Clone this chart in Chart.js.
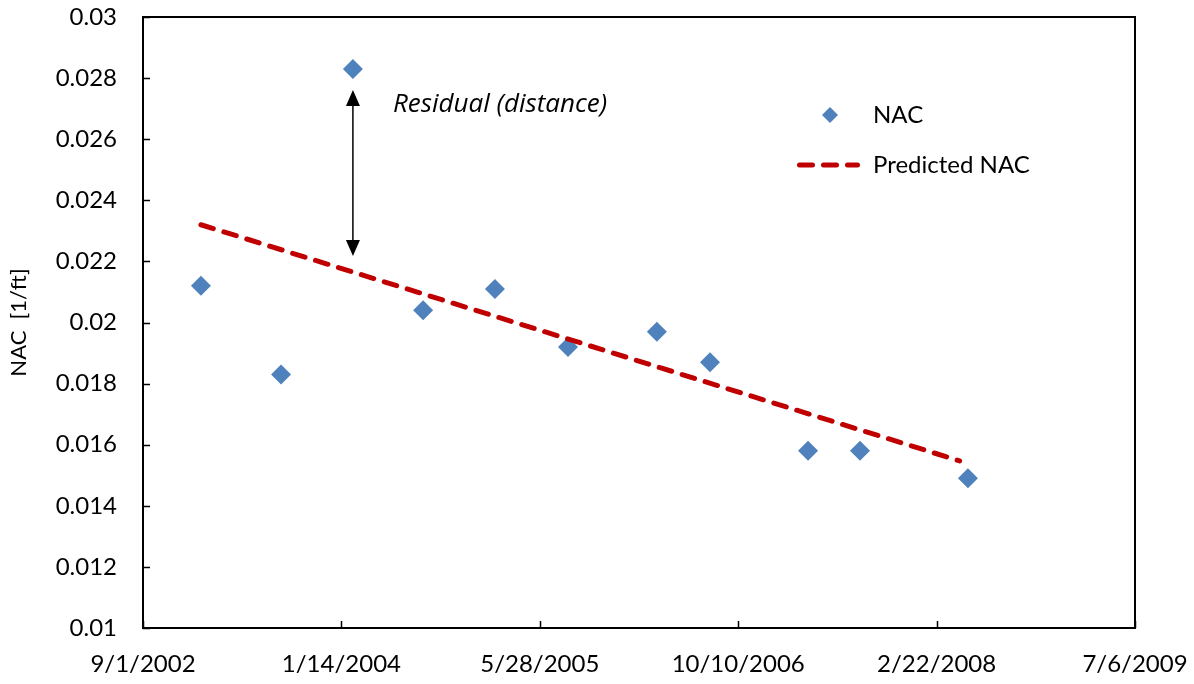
<!DOCTYPE html>
<html>
<head>
<meta charset="utf-8">
<script src="https://cdn.jsdelivr.net/npm/chart.js@4.4.1/dist/chart.umd.min.js"></script>
<style>
  html, body { margin: 0; padding: 0; background: #fff; }
  #wrap { width: 1194px; height: 684px; position: relative; }
</style>
</head>
<body>
<div id="wrap"><canvas id="nacChart"></canvas></div>
<script>
// ---------- Dados ----------
const nacDates   = ['2003-01-25','2003-08-15','2004-02-12','2004-08-07','2005-02-04','2005-08-07',
                    '2006-03-19','2006-07-31','2007-04-04','2007-08-13','2008-05-11'];
const nacValues  = [0.0212, 0.0183, 0.0283, 0.0204, 0.0211, 0.0192, 0.0197, 0.0187, 0.0158, 0.0158, 0.0149];
const predDates  = ['2003-01-25','2008-04-20'];
const predValues = [0.0232, 0.01547];
const xAxisStart = '2002-09-01';   // 9/1/2002
const xStepDays  = 500;            // 9/1/2002, 1/14/2004, ... 7/6/2009
const xStepCount = 5;
const yMin = 0.01, yMax = 0.03, yStep = 0.002;
const residualIndex = 2;           // ponto com a seta "Residual (distance)"

// ---------- Helpers ----------
const DAY = 86400000;
const toDay = s => { const [y,m,d] = s.split('-').map(Number); return Date.UTC(y, m-1, d) / DAY; };
const fmtDay = v => { const d = new Date(Math.round(v) * DAY); return (d.getUTCMonth()+1) + '/' + d.getUTCDate() + '/' + d.getUTCFullYear(); };

const xMin = toDay(xAxisStart);
const xMax = xMin + xStepDays * xStepCount;

const nacPoints  = nacDates.map((d,i) => ({ x: toDay(d), y: nacValues[i] }));
const predPoints = predDates.map((d,i) => ({ x: toDay(d), y: predValues[i] }));

const FONT = 'Lato, "Open Sans", sans-serif';
const BLUE = '#4f81bd';
const RED  = '#c00000';

// valor previsto (reta) numa data
function predAt(x) {
  const a = predPoints[0], b = predPoints[1];
  return a.y + (x - a.x) * (b.y - a.y) / (b.x - a.x);
}

// ---------- Moldura + ticks internos ----------
const framePlugin = {
  id: 'frame',
  afterDraw(chart) {
    const { ctx, chartArea: a, scales } = chart;
    ctx.save();
    ctx.strokeStyle = '#000';
    ctx.lineWidth = 2;
    ctx.strokeRect(a.left, a.top, a.right - a.left, a.bottom - a.top);
    ctx.lineWidth = 1.5;
    ctx.beginPath();
    scales.x.ticks.forEach(t => {
      const px = Math.round(scales.x.getPixelForValue(t.value)) + 0.5;
      ctx.moveTo(px, a.bottom); ctx.lineTo(px, a.bottom - 7);
    });
    scales.y.ticks.forEach(t => {
      const py = Math.round(scales.y.getPixelForValue(t.value)) + 0.5;
      ctx.moveTo(a.left, py); ctx.lineTo(a.left + 7, py);
    });
    ctx.stroke();
    ctx.restore();
  }
};

// ---------- Seta do resíduo + legenda ----------
function arrowHead(ctx, x, y, dir) {
  ctx.beginPath();
  ctx.moveTo(x, y);
  ctx.lineTo(x - 7, y - dir * 16);
  ctx.lineTo(x + 7, y - dir * 16);
  ctx.closePath();
  ctx.fill();
}

const annotPlugin = {
  id: 'annot',
  afterDatasetsDraw(chart) {
    const { ctx, scales } = chart;
    const p = nacPoints[residualIndex];
    const px = scales.x.getPixelForValue(p.x);
    const yTop = scales.y.getPixelForValue(p.y) + 21;
    const yBot = scales.y.getPixelForValue(predAt(p.x)) - 16;

    ctx.save();
    ctx.fillStyle = '#000';
    ctx.strokeStyle = '#000';
    ctx.lineWidth = 1.5;
    ctx.beginPath();
    ctx.moveTo(px, yTop + 10); ctx.lineTo(px, yBot - 10);
    ctx.stroke();
    arrowHead(ctx, px, yTop, -1);
    arrowHead(ctx, px, yBot, 1);

    ctx.font = 'italic 26px "Open Sans", sans-serif';
    ctx.textBaseline = 'middle';
    ctx.textAlign = 'left';
    ctx.fillText('Residual (distance)', px + 40, yTop + 15);

    // legenda
    const lx = 797, ly1 = 115, ly2 = 165, tx = 873;
    ctx.fillStyle = BLUE;
    ctx.beginPath();
    ctx.moveTo(830, ly1 - 8); ctx.lineTo(838, ly1); ctx.lineTo(830, ly1 + 8); ctx.lineTo(822, ly1);
    ctx.closePath(); ctx.fill();

    ctx.strokeStyle = RED;
    ctx.lineWidth = 5;
    ctx.lineCap = 'round';
    ctx.setLineDash([13, 11]);
    ctx.beginPath();
    ctx.moveTo(lx + 2.5, ly2); ctx.lineTo(860 - 2.5, ly2);
    ctx.stroke();
    ctx.setLineDash([]);

    ctx.fillStyle = '#000';
    ctx.font = '24px ' + FONT;
    ctx.fillText('NAC', tx, ly1);
    ctx.fillText('Predicted NAC', tx, ly2);
    ctx.restore();
  }
};

// ---------- Gráfico ----------
new Chart(document.getElementById('nacChart'), {
  type: 'scatter',
  data: {
    datasets: [
      {
        label: 'Predicted NAC',
        type: 'line',
        data: predPoints,
        borderColor: RED,
        borderWidth: 5,
        borderDash: [13, 11],
        borderCapStyle: 'round',
        pointRadius: 0,
        fill: false
      },
      {
        label: 'NAC',
        data: nacPoints,
        pointStyle: 'rectRot',
        pointRadius: 10,
        pointHoverRadius: 10,
        backgroundColor: BLUE,
        borderColor: BLUE,
        borderWidth: 0
      }
    ]
  },
  options: {
    responsive: true,
    maintainAspectRatio: false,
    animation: false,
    layout: { padding: { left: 0, top: 17, right: 59, bottom: 0 } },
    plugins: { legend: { display: false }, tooltip: { enabled: false } },
    scales: {
      x: {
        type: 'linear',
        min: xMin,
        max: xMax,
        afterBuildTicks: s => {
          s.ticks = [];
          for (let i = 0; i <= xStepCount; i++) s.ticks.push({ value: xMin + i * xStepDays });
        },
        afterFit: s => { s.height = 56; s.paddingLeft = 0; s.paddingRight = 0; },
        grid: { display: false, drawTicks: false },
        border: { display: false },
        ticks: {
          color: '#000',
          font: { family: FONT, size: 24 },
          padding: 22,
          maxRotation: 0,
          autoSkip: false,
          callback: v => fmtDay(v)
        }
      },
      y: {
        min: yMin,
        max: yMax,
        afterFit: s => { s.width = 143; s.paddingTop = 0; s.paddingBottom = 0; },
        grid: { display: false, drawTicks: false },
        border: { display: false },
        ticks: {
          stepSize: yStep,
          color: '#000',
          font: { family: FONT, size: 24 },
          padding: 26,
          callback: v => String(+v.toFixed(3))
        },
        title: {
          display: true,
          text: 'NAC  [1/ft]',
          color: '#000',
          font: { family: FONT, size: 22 },
          padding: { top: 6, bottom: 0 }
        }
      }
    }
  },
  plugins: [framePlugin, annotPlugin]
});
</script>
</body>
</html>
